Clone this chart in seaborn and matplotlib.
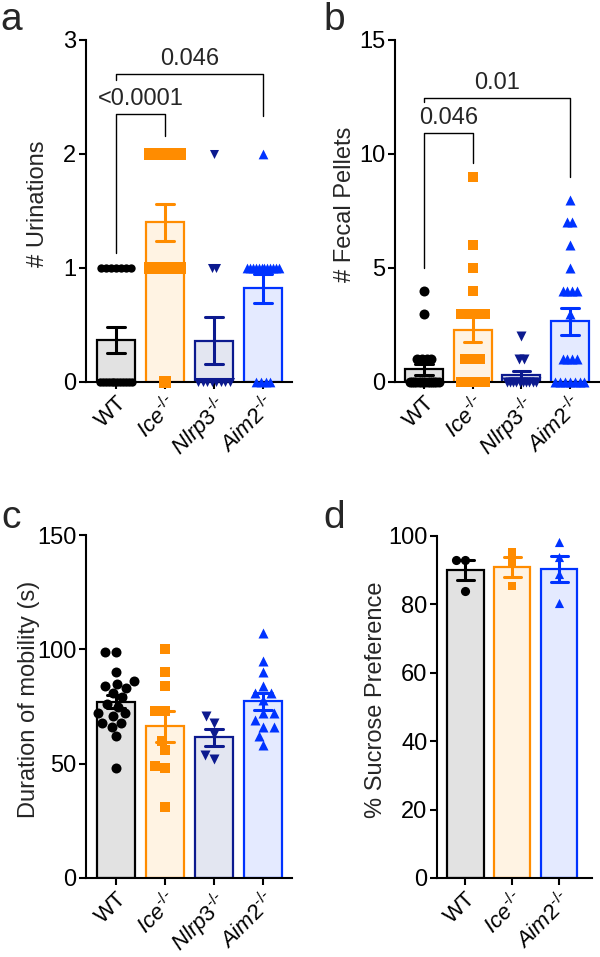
import numpy as np
import matplotlib
matplotlib.use("Agg")
import matplotlib.pyplot as plt
import seaborn as sns

# ---------------- data ----------------
groups4 = ["WT", "Ice", "Nlrp3", "Aim2"]
groups3 = ["WT", "Ice", "Aim2"]
labels4 = ["WT", r"$\mathit{Ice}^{\text{-/-}}$", r"$\mathit{Nlrp3}^{\text{-/-}}$", r"$\mathit{Aim2}^{\text{-/-}}$"]
labels3 = ["WT", r"$\mathit{Ice}^{\text{-/-}}$", r"$\mathit{Aim2}^{\text{-/-}}$"]

urin_wt = [1, 1, 1, 1, 1, 1, 1, 0, 0, 0, 0, 0, 0, 0, 0, 0, 0, 0, 0]
urin_ice = [2, 2, 2, 2, 2, 2, 2, 1, 1, 1, 1, 1, 1, 1, 0]
urin_nlrp3 = [2, 1, 1, 0, 0, 0, 0, 0, 0, 0, 0]
urin_aim2 = [2, 1, 1, 1, 1, 1, 1, 1, 1, 1, 1, 1, 1, 0, 0, 0, 0]

fecal_wt = [4, 3, 1, 1, 1, 1, 0, 0, 0, 0, 0, 0, 0, 0, 0, 0, 0, 0, 0, 0]
fecal_ice = [9, 6, 5, 4, 3, 3, 3, 3, 3, 3, 1, 1, 1, 1, 0, 0, 0, 0, 0, 0]
fecal_nlrp3 = [2, 1, 1, 0, 0, 0, 0, 0, 0, 0, 0, 0, 0]
fecal_aim2 = [8, 7, 7, 6, 5, 4, 4, 4, 4, 3, 1, 1, 1, 1, 0, 0, 0, 0, 0, 0, 0]

mob_wt = [99, 99, 90, 86, 85, 84, 83, 81, 79, 76, 75, 72, 72, 71, 68, 68, 66, 62, 48]
mob_ice = [100, 90, 84, 73, 73, 60, 56, 49, 48, 31]
mob_nlrp3 = [71, 68, 63, 52, 54]
mob_aim2 = [107, 95, 90, 84, 81, 81, 78, 72, 72, 69, 66, 66, 62, 58]

suc_wt = [93, 93, 84]
suc_ice = [95.4, 92, 85.4]
suc_aim2 = [98.3, 94, 89, 80.3]

# brackets: (group1, group2, left leg bottom, top, right leg bottom, text)
brackets_a = [(0, 1, 1.13, 2.35, 2.16, "<0.0001"), (0, 3, 2.65, 2.70, 2.33, "0.046")]
brackets_b = [(0, 1, 5.0, 10.9, 9.6, "0.046"), (0, 3, 12.3, 12.47, 9.0, "0.01")]

# ---------------- style ----------------
edge = {"WT": "#000000", "Ice": "#FF8C00", "Nlrp3": "#0C1A8F", "Aim2": "#0033FF"}
fill = {"WT": "#E2E2E2", "Ice": "#FFF3E3", "Nlrp3": "#E3E6F1", "Aim2": "#E4EAFF"}
mark = {"WT": "o", "Ice": "s", "Nlrp3": "v", "Aim2": "^"}

sns.set_style("ticks")
plt.rcParams["font.family"] = ["Liberation Sans", "DejaVu Sans"]
plt.rcParams["mathtext.fontset"] = "custom"
plt.rcParams["mathtext.rm"] = "Liberation Sans"
plt.rcParams["mathtext.it"] = "Liberation Sans:italic"
plt.rcParams["mathtext.bf"] = "Liberation Sans:bold"
FS = 17
FSX = 16

fig = plt.figure(figsize=(6.0, 9.57), dpi=100)
W, H = 600.0, 957.0


def axes_px(left, right, top, bottom):
    return fig.add_axes([left / W, 1 - bottom / H, (right - left) / W, (bottom - top) / H])


def bars(ax, groups, data):
    for g in groups:
        vals = data[g]
        sns.barplot(x=[g] * len(vals), y=vals, order=groups, color=fill[g],
                    edgecolor=edge[g], linewidth=1.6, width=0.78, saturation=1,
                    errorbar="se", capsize=0.36,
                    err_kws={"color": edge[g], "linewidth": 2.2, "zorder": 6}, ax=ax)


def spread(ax, groups, data, sizes, step, cap):
    for i, g in enumerate(groups):
        vals = np.asarray(data[g], dtype=float)
        for v in np.unique(vals):
            k = int((vals == v).sum())
            offs = (np.arange(k) - (k - 1) / 2) * step
            if k > 1 and offs.max() > cap:
                offs = offs * cap / offs.max()
            ax.scatter(i + offs, np.full(k, v), marker=mark[g], color=edge[g],
                       s=sizes[g] ** 2, linewidths=0, zorder=4, clip_on=False)


def swarm(ax, groups, data, sizes):
    for g in groups:
        vals = data[g]
        sns.swarmplot(x=[g] * len(vals), y=vals, order=groups, color=edge[g],
                      marker=mark[g], size=sizes[g], linewidth=0, ax=ax,
                      zorder=4, clip_on=False)


def finish(ax, labels, ylim, yticks, ylabel, xlim, labelpad=4):
    ax.set_xlim(*xlim)
    ax.set_ylim(*ylim)
    ax.set_yticks(yticks)
    ax.set_yticklabels([str(t) for t in yticks], fontsize=FS)
    ax.set_xticks(range(len(labels)))
    ax.set_xticklabels(labels, rotation=45, ha="right", rotation_mode="anchor", fontsize=FSX)
    ax.set_ylabel(ylabel, fontsize=FS, labelpad=labelpad)
    ax.yaxis.label.set_y(0.52)
    ax.set_xlabel("")
    for s in ["top", "right"]:
        ax.spines[s].set_visible(False)
    for s in ["left", "bottom"]:
        ax.spines[s].set_linewidth(1.5)
        ax.spines[s].set_color("black")
    ax.tick_params(axis="both", direction="out", length=5, width=1.5, colors="black", pad=2)
    ax.set_facecolor("none")


def draw_brackets(ax, brs):
    for x1, x2, yl, yt, yr, txt in brs:
        ax.plot([x1, x1, x2, x2], [yl, yt, yt, yr], color="black", lw=1.0, zorder=7)
        ax.annotate(txt, xy=((x1 + x2) / 2, yt), xytext=(0, 3), textcoords="offset points",
                    ha="center", va="bottom", fontsize=FS)


# ---------------- panel a ----------------
ax_a = axes_px(86, 292, 40, 382)
data_a = {"WT": urin_wt, "Ice": urin_ice, "Nlrp3": urin_nlrp3, "Aim2": urin_aim2}
bars(ax_a, groups4, data_a)
spread(ax_a, groups4, data_a, {"WT": 6.0, "Ice": 8.0, "Nlrp3": 6.5, "Aim2": 7.0}, 0.1, 0.32)
draw_brackets(ax_a, brackets_a)
finish(ax_a, labels4, (0, 3), [0, 1, 2, 3], "# Urinations", (-0.61, 3.59), labelpad=10)

# ---------------- panel b ----------------
ax_b = axes_px(395, 599, 40, 382)
data_b = {"WT": fecal_wt, "Ice": fecal_ice, "Nlrp3": fecal_nlrp3, "Aim2": fecal_aim2}
bars(ax_b, groups4, data_b)
spread(ax_b, groups4, data_b, {"WT": 7.2, "Ice": 7.2, "Nlrp3": 7.2, "Aim2": 7.2}, 0.1, 0.3)
draw_brackets(ax_b, brackets_b)
finish(ax_b, labels4, (0, 15), [0, 5, 10, 15], "# Fecal Pellets", (-0.6, 3.6), labelpad=2)

# ---------------- panel c ----------------
ax_c = axes_px(86, 292, 535, 878)
data_c = {"WT": mob_wt, "Ice": mob_ice, "Nlrp3": mob_nlrp3, "Aim2": mob_aim2}
bars(ax_c, groups4, data_c)
swarm(ax_c, groups4, data_c, {"WT": 7.2, "Ice": 6.8, "Nlrp3": 7.2, "Aim2": 7.2})
finish(ax_c, labels4, (0, 150), [0, 50, 100, 150], "Duration of mobility (s)", (-0.61, 3.59), labelpad=-2)

# ---------------- panel d ----------------
ax_d = axes_px(437, 592, 536, 878)
data_d = {"WT": suc_wt, "Ice": suc_ice, "Aim2": suc_aim2}
bars(ax_d, groups3, data_d)
swarm(ax_d, groups3, data_d, {"WT": 6.6, "Ice": 6.4, "Aim2": 6.6})
finish(ax_d, labels3, (0, 100), [0, 20, 40, 60, 80, 100], "% Sucrose Preference", (-0.6, 2.7), labelpad=1)

# ---------------- panel letters ----------------
for txt, x, y in [("a", 0, 2), ("b", 323, 2), ("c", 1, 500), ("d", 323, 500)]:
    fig.text(x / W, 1 - y / H, txt, fontsize=28, ha="left", va="top")

fig.savefig("out.png", dpi=100)
